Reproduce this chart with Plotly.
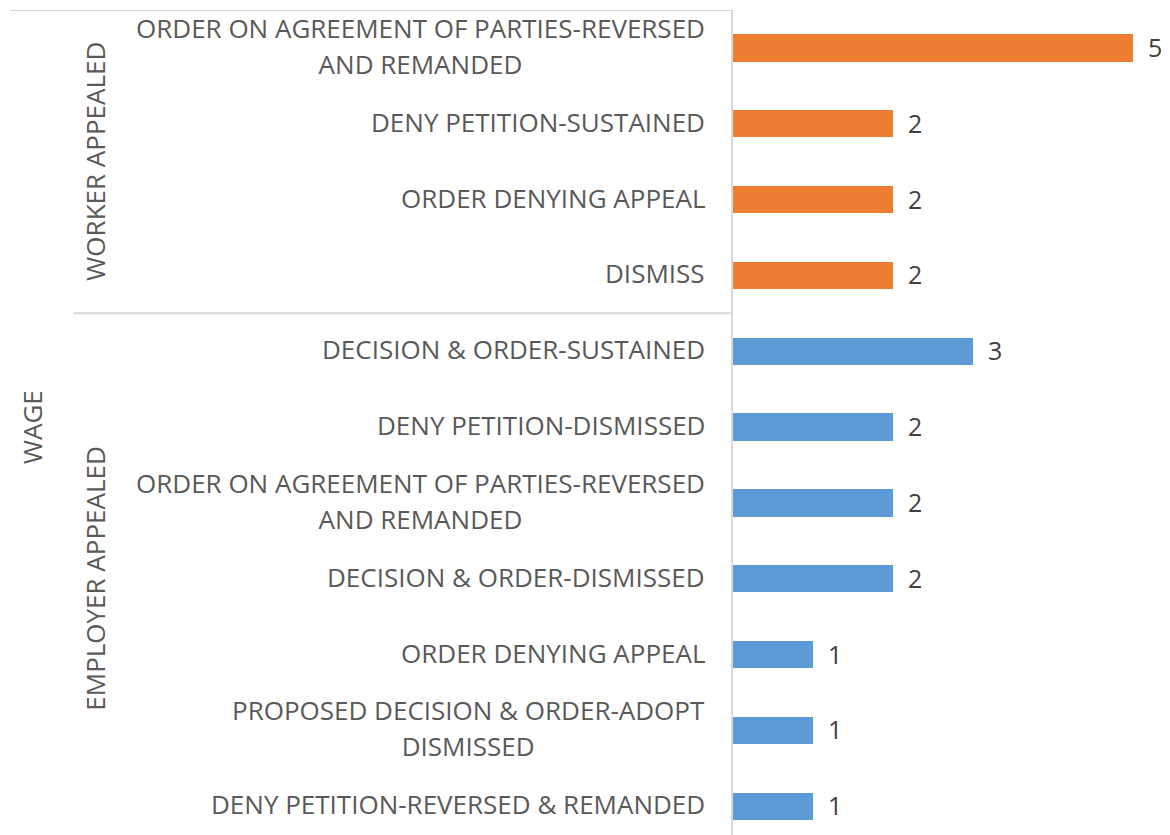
import plotly.graph_objects as go

# categories, top to bottom
groups = ["WORKER APPEALED"] * 4 + ["EMPLOYER APPEALED"] * 7
outcomes = [
    "ORDER ON AGREEMENT OF PARTIES-REVERSED<br>AND REMANDED",
    "DENY PETITION-SUSTAINED",
    "ORDER DENYING APPEAL",
    "DISMISS",
    "DECISION & ORDER-SUSTAINED",
    "DENY PETITION-DISMISSED",
    "ORDER ON AGREEMENT OF PARTIES-REVERSED<br>AND REMANDED",
    "DECISION & ORDER-DISMISSED",
    "ORDER DENYING APPEAL",
    "PROPOSED DECISION & ORDER-ADOPT<br>DISMISSED",
    "DENY PETITION-REVERSED & REMANDED",
]
counts = [5, 2, 2, 2, 3, 2, 2, 2, 1, 1, 1]
top_label = "WAGE"

colors = {"WORKER APPEALED": "#ED7D31", "EMPLOYER APPEALED": "#5B9BD5"}
label_color = "#595959"
value_color = "#404040"
grid_color = "#D9D9D9"
font_family = "Open Sans, sans-serif"
fs = 26

# the page body has an 8px margin, so the figure starts at page (8, 8)
W, H = 1162, 827
left = 725          # figure pixel where the plot area starts
plot_w = W - left
px_per_unit = 80

def px_to_paper(p):
    # p is a page x coordinate
    return (p - 8 - left) / plot_w

pos = list(range(len(outcomes)))

fig = go.Figure()
for g in ["WORKER APPEALED", "EMPLOYER APPEALED"]:
    idx = [i for i, gg in enumerate(groups) if gg == g]
    fig.add_trace(go.Bar(
        x=[counts[i] for i in idx],
        y=[pos[i] for i in idx],
        orientation="h",
        width=0.36,
        marker=dict(color=colors[g], line=dict(width=0)),
        showlegend=False,
        hoverinfo="x",
    ))

annotations = []
# data labels
for i, v in zip(pos, counts):
    annotations.append(dict(
        x=v, y=i, xref="x", yref="y", text=str(v), showarrow=False,
        xanchor="left", yanchor="middle", xshift=13, yshift=1,
        font=dict(family=font_family, size=fs - 1, color=value_color),
    ))
# category labels (line height ~36px)
for i, lab in zip(pos, outcomes):
    txt = "<br>".join(f"<span style='font-size:{fs}px'>{ln}</span>" for ln in lab.split("<br>"))
    annotations.append(dict(
        x=0, y=i, xref="paper", yref="y", text=txt, showarrow=False,
        xanchor="right", yanchor="middle", align="center", xshift=-26, yshift=2,
        font=dict(family=font_family, size=27.7, color=label_color),
    ))
# group labels
seen = []
for g in groups:
    if g not in seen:
        seen.append(g)
for g in seen:
    idx = [i for i, gg in enumerate(groups) if gg == g]
    annotations.append(dict(
        x=px_to_paper(95), y=(idx[0] + idx[-1]) / 2, xref="paper", yref="y",
        text=g, textangle=-90, showarrow=False, xanchor="center", yanchor="middle",
        font=dict(family=font_family, size=fs, color=label_color),
    ))
annotations.append(dict(
    x=px_to_paper(32), y=(pos[0] + pos[-1]) / 2, xref="paper", yref="y",
    text=top_label, textangle=-90, showarrow=False, xanchor="center", yanchor="middle",
    font=dict(family=font_family, size=fs, color=label_color),
))

shapes = [
    dict(type="line", xref="paper", yref="y", x0=px_to_paper(10), x1=0,
         y0=-0.5, y1=-0.5, line=dict(color=grid_color, width=2)),
    dict(type="line", xref="paper", yref="y", x0=px_to_paper(74), x1=0,
         y0=3.5, y1=3.5, line=dict(color=grid_color, width=2)),
]

fig.update_layout(
    width=W, height=H,
    margin=dict(l=left, r=0, t=2, b=0),
    paper_bgcolor="white", plot_bgcolor="white",
    xaxis=dict(range=[0, plot_w / px_per_unit], visible=False),
    yaxis=dict(range=[10.38, -0.5], showticklabels=False, showgrid=False,
               zeroline=False, showline=True, linecolor=grid_color, linewidth=2,
               ticks=""),
    annotations=annotations,
    shapes=shapes,
    bargap=0,
)

fig.write_html("out.html")
